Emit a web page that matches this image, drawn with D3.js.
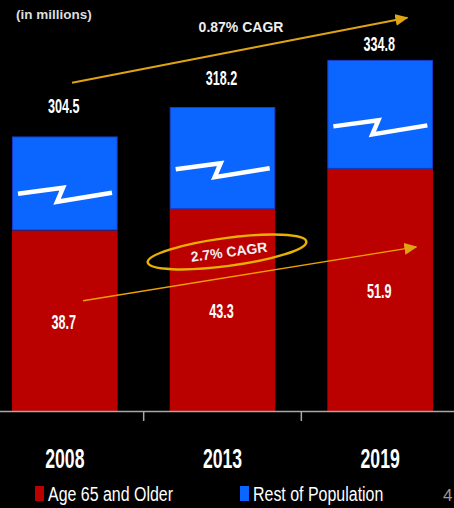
<!DOCTYPE html>
<meta charset="utf-8">
<html>
<style>
  body { margin: 0; background: #000; }
  svg { display: block; background: #000; }
  .lbl { font-family: "Liberation Sans", Arial, sans-serif; font-weight: bold; fill: #fff; text-anchor: middle; }
</style>
<body>
<svg width="454" height="508"></svg>
<script src="https://d3js.org/d3.v7.min.js"></script>
<script>

// data (US population, in millions)
var years = ["2008", "2013", "2019"];
var older = [38.7, 43.3, 51.9];
var total = [304.5, 318.2, 334.8];
var seriesNames = ["Age 65 and Older", "Rest of Population"];
var cagrLabels = ["0.87% CAGR", "2.7% CAGR"];

var red = "#bb0000", blue = "#0a66ff", gold = "#e0a412";

var svg = d3.select("svg"),
    width = +svg.attr("width"),
    height = +svg.attr("height");

var baseY = 411;

var x = d3.scaleBand().domain(years).range([-14, 459])
    .paddingInner(0.33).paddingOuter(0.165);
var bw = x.bandwidth();

// red part on a true scale
var y = d3.scaleLinear().domain([0, 88.1]).range([baseY, 0]);
// rest of population drawn on a broken scale
var yRest = d3.scaleLinear().domain([158.5, 282.9]).range([0, 109]);
// placement of the total labels
var yTot = d3.scaleLinear().domain([300, 340]).range([115, 33]);

var data = years.map(function(d, i) {
  return { year: d, older: older[i], total: total[i], rest: total[i] - older[i] };
});
data.forEach(function(d) {
  d.redTop = y(d.older);
  d.blueTop = d.redTop - yRest(d.rest);
});

function narrow(sel, sx) {
  sel.attr("transform", function(d) { return "translate(" + d.tx + "," + d.ty + ") scale(" + sx + ",1)"; });
}

// arrowhead
svg.append("defs").append("marker")
    .attr("id", "head")
    .attr("markerUnits", "userSpaceOnUse")
    .attr("markerWidth", 13).attr("markerHeight", 12)
    .attr("refX", 12).attr("refY", 6)
    .attr("orient", "auto")
  .append("path")
    .attr("d", "M0,0 L13,6 L0,12 z")
    .attr("fill", gold);

// bars
var g = svg.append("g");
g.selectAll(".red").data(data).enter().append("rect")
    .attr("x", function(d) { return x(d.year); })
    .attr("y", function(d) { return d.redTop; })
    .attr("width", bw)
    .attr("height", function(d) { return baseY - d.redTop; })
    .attr("fill", red);

g.selectAll(".blue").data(data).enter().append("rect")
    .attr("x", function(d) { return x(d.year) + 0.5; })
    .attr("y", function(d) { return d.blueTop + 0.5; })
    .attr("width", bw - 1)
    .attr("height", function(d) { return d.redTop - d.blueTop - 1; })
    .attr("fill", blue)
    .attr("stroke", "#1a3cc8")
    .attr("stroke-width", 1);

// break marks
var zig = [[6, 0], [51, -6], [45, 8], [100, -1]];
var line = d3.line();
g.selectAll(".zig").data(data).enter().append("path")
    .attr("d", function(d) {
      var cy = d.blueTop + (d.redTop - d.blueTop) * 0.61;
      var x0 = x(d.year);
      return line(zig.map(function(p) { return [x0 + p[0], cy + p[1]]; }));
    })
    .attr("fill", "none")
    .attr("stroke", "#fff")
    .attr("stroke-width", 4.5)
    .attr("stroke-linejoin", "miter");

// axis line and ticks between categories
svg.append("line")
    .attr("x1", 0).attr("x2", width)
    .attr("y1", baseY + 0.5).attr("y2", baseY + 0.5)
    .attr("stroke", "#a8a8a8").attr("stroke-width", 1.5);

svg.selectAll(".tick").data(years.slice(1)).enter().append("line")
    .attr("x1", function(d) { return x(d) - x.step() * x.paddingInner() / 2; })
    .attr("x2", function(d) { return x(d) - x.step() * x.paddingInner() / 2; })
    .attr("y1", baseY).attr("y2", baseY + 10)
    .attr("stroke", "#a8a8a8").attr("stroke-width", 1.5);

// category labels
svg.selectAll(".cat").data(years.map(function(d) {
      return { t: d, tx: x(d) + bw / 2, ty: 468 };
    })).enter().append("text")
    .attr("class", "lbl")
    .style("font-size", "28px")
    .text(function(d) { return d.t; })
    .call(narrow, 0.63);

// total labels
svg.selectAll(".tot").data(data.map(function(d) {
      return { t: d.total.toFixed(1), tx: x(d.year) + bw / 2 - 1, ty: yTot(d.total) + 7 };
    })).enter().append("text")
    .attr("class", "lbl")
    .style("font-size", "20px")
    .text(function(d) { return d.t; })
    .call(narrow, 0.63);

// 65+ labels
svg.selectAll(".old").data(data.map(function(d) {
      return { t: d.older.toFixed(1), tx: x(d.year) + bw / 2 - 1, ty: (d.redTop + baseY) / 2 + 8 };
    })).enter().append("text")
    .attr("class", "lbl")
    .style("font-size", "20px")
    .text(function(d) { return d.t; })
    .call(narrow, 0.63);

// total CAGR arrow
var d0 = data[0], d2 = data[2];
svg.append("line")
    .attr("x1", x(d0.year) + 60).attr("y1", yTot(d0.total) - 23)
    .attr("x2", x(d2.year) + 80).attr("y2", yTot(d2.total) - 26)
    .attr("stroke", gold).attr("stroke-width", 2)
    .attr("marker-end", "url(#head)");

svg.append("text")
    .attr("class", "lbl")
    .attr("x", 241).attr("y", 32)
    .style("font-size", "14px")
    .style("fill", "#eee")
    .text(cagrLabels[0]);

// 65+ CAGR arrow
svg.append("line")
    .attr("x1", x(d0.year) + 71).attr("y1", (d0.redTop + baseY) / 2 - 20)
    .attr("x2", x(d2.year) + 89).attr("y2", d2.redTop + 78)
    .attr("stroke", "#f0a000").attr("stroke-width", 1.5)
    .attr("marker-end", "url(#head)");

var ell = svg.append("g").attr("transform", "translate(227,252) rotate(-7.5)");
ell.append("ellipse")
    .attr("rx", 80).attr("ry", 14)
    .attr("fill", "none")
    .attr("stroke", "#e8b000")
    .attr("stroke-width", 2.5);
ell.append("text")
    .attr("class", "lbl")
    .attr("x", 2).attr("y", 5)
    .style("font-size", "14px")
    .style("fill", "#f2f2f2")
    .text(cagrLabels[1]);

// units note
svg.append("text")
    .attr("x", 16).attr("y", 19)
    .style("font-family", "Liberation Sans, Arial, sans-serif")
    .style("font-weight", "bold")
    .style("font-size", "13.5px")
    .style("fill", "#ddd")
    .text("(in millions)");

// legend
var leg = svg.append("g");
var legX = [35, 240];
leg.selectAll("rect").data(seriesNames).enter().append("rect")
    .attr("x", function(d, i) { return legX[i]; })
    .attr("y", 486)
    .attr("width", 9).attr("height", 15)
    .attr("fill", function(d, i) { return i ? blue : red; });

leg.selectAll("text").data(seriesNames.map(function(d, i) {
      return { t: d, tx: legX[i] + 13, ty: 501 };
    })).enter().append("text")
    .style("font-family", "Liberation Sans, Arial, sans-serif")
    .style("font-size", "21px")
    .style("fill", "#fff")
    .text(function(d) { return d.t; })
    .call(narrow, 0.76);

// page number at the right edge
svg.append("text")
    .attr("x", 443).attr("y", 501)
    .style("font-family", "Liberation Sans, Arial, sans-serif")
    .style("font-size", "17px")
    .style("fill", "#999")
    .text("4");

</script>
</body>
</html>
